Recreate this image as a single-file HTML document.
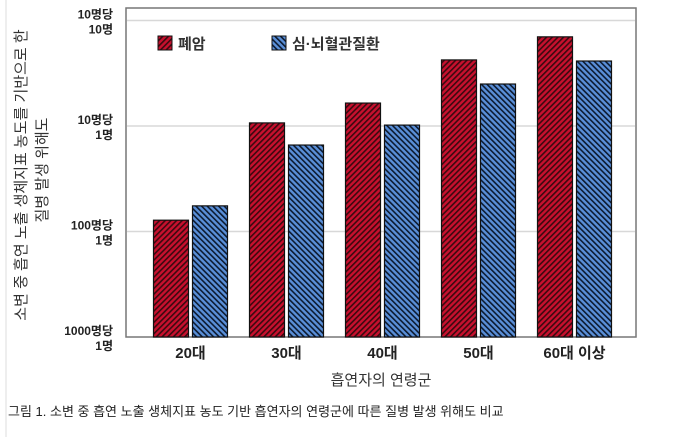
<!DOCTYPE html>
<html><head><meta charset="utf-8"><style>
body{margin:0;background:#fff;width:680px;height:437px;overflow:hidden;font-family:"Liberation Sans","Noto Sans CJK KR",sans-serif}
</style></head><body>
<svg width="680" height="437" xmlns="http://www.w3.org/2000/svg" style="font-family:'Liberation Sans','Noto Sans CJK KR',sans-serif">
<defs>
<pattern id="pr" patternUnits="userSpaceOnUse" width="4" height="4" patternTransform="rotate(45)"><rect width="4" height="4" fill="#c8102e"/><rect width="1.6" height="4" fill="#3a0a10"/></pattern>
<pattern id="pb" patternUnits="userSpaceOnUse" width="4" height="4" patternTransform="rotate(-45)"><rect width="4" height="4" fill="#5a8fd8"/><rect width="1.6" height="4" fill="#0c1a30"/></pattern>
</defs>
<line x1="6" y1="0" x2="6" y2="437" stroke="#ddd"/>
<rect x="126" y="8" width="510" height="329" fill="#fff" stroke="#777" stroke-width="1.5"/>
<g id="grid"></g>
<g id="bars"></g>
<g id="yticks" font-size="12" font-weight="bold" fill="#222" text-anchor="end"></g>
<g id="xticks" font-size="15" font-weight="bold" fill="#222" text-anchor="middle"></g>
<g>
<rect x="158" y="36" width="14" height="14" fill="url(#pr)" stroke="#111"/>
<text x="178" y="49" font-size="15" font-weight="bold" fill="#333">폐암</text>
<rect x="272" y="36" width="14" height="14" fill="url(#pb)" stroke="#111"/>
<text x="292" y="49" font-size="15" font-weight="bold" fill="#333">심·뇌혈관질환</text>
</g>
<text transform="translate(26,175) rotate(-90)" text-anchor="middle" font-size="15" fill="#333">소변 중 흡연 노출 생체지표 농도를 기반으로 한</text>
<text transform="translate(47,170) rotate(-90)" text-anchor="middle" font-size="15" fill="#333">질병 발생 위해도</text>
<text x="381" y="385" text-anchor="middle" font-size="15" fill="#333">흡연자의 연령군</text>
<text x="8" y="416" font-size="13" fill="#222">그림 1. 소변 중 흡연 노출 생체지표 농도 기반 흡연자의 연령군에 따른 질병 발생 위해도 비교</text>
</svg>
<script>
const categories=["20대","30대","40대","50대","60대 이상"];
const lungCancer=[0.0128,0.107,0.165,0.423,0.70];
const cardio=[0.0175,0.066,0.102,0.25,0.413];
const tickValues=[0.001,0.01,0.1,1];
const tickLine1=["1000명당","100명당","10명당","10명당"];
const tickLine2=["1명","1명","1명","10명"];
const NS="http://www.w3.org/2000/svg";
const y0=337,dec=105.5,minLog=-3;
function yScale(v){return y0-(Math.log10(v)-minLog)*dec;}
function xScale(i){return 190.5+i*96;}
function mk(tag,attrs,parent){const e=document.createElementNS(NS,tag);for(const k in attrs)e.setAttribute(k,attrs[k]);parent.appendChild(e);return e;}
const grid=document.getElementById('grid'),bars=document.getElementById('bars'),yt=document.getElementById('yticks'),xt=document.getElementById('xticks');
tickValues.forEach((v,i)=>{const y=yScale(v);
 if(i>0){const l=mk('line',{x1:127,x2:635,y1:y,y2:y,stroke:'#d8d8d8','stroke-width':1.5},grid);
 
 }
 const t=mk('text',{x:113,y:y-2},yt);t.textContent=tickLine1[i];
 
 
 const t2=mk('text',{x:113,y:y+13},yt);t2.textContent=tickLine2[i];
 
 
});
categories.forEach((c,i)=>{const cx=xScale(i);
 const yr=yScale(lungCancer[i]);
 const r=mk('rect',{x:cx-37,y:yr,width:35,height:y0-yr,fill:'url(#pr)',stroke:'#111','stroke-width':1.2},bars);
 
 
 const yb=yScale(cardio[i]);
 const b=mk('rect',{x:cx+2,y:yb,width:35,height:y0-yb,fill:'url(#pb)',stroke:'#111','stroke-width':1.2},bars);
 
 
 const t=mk('text',{x:cx,y:358},xt);t.textContent=c;
 
 
});
</script>
</body></html>
